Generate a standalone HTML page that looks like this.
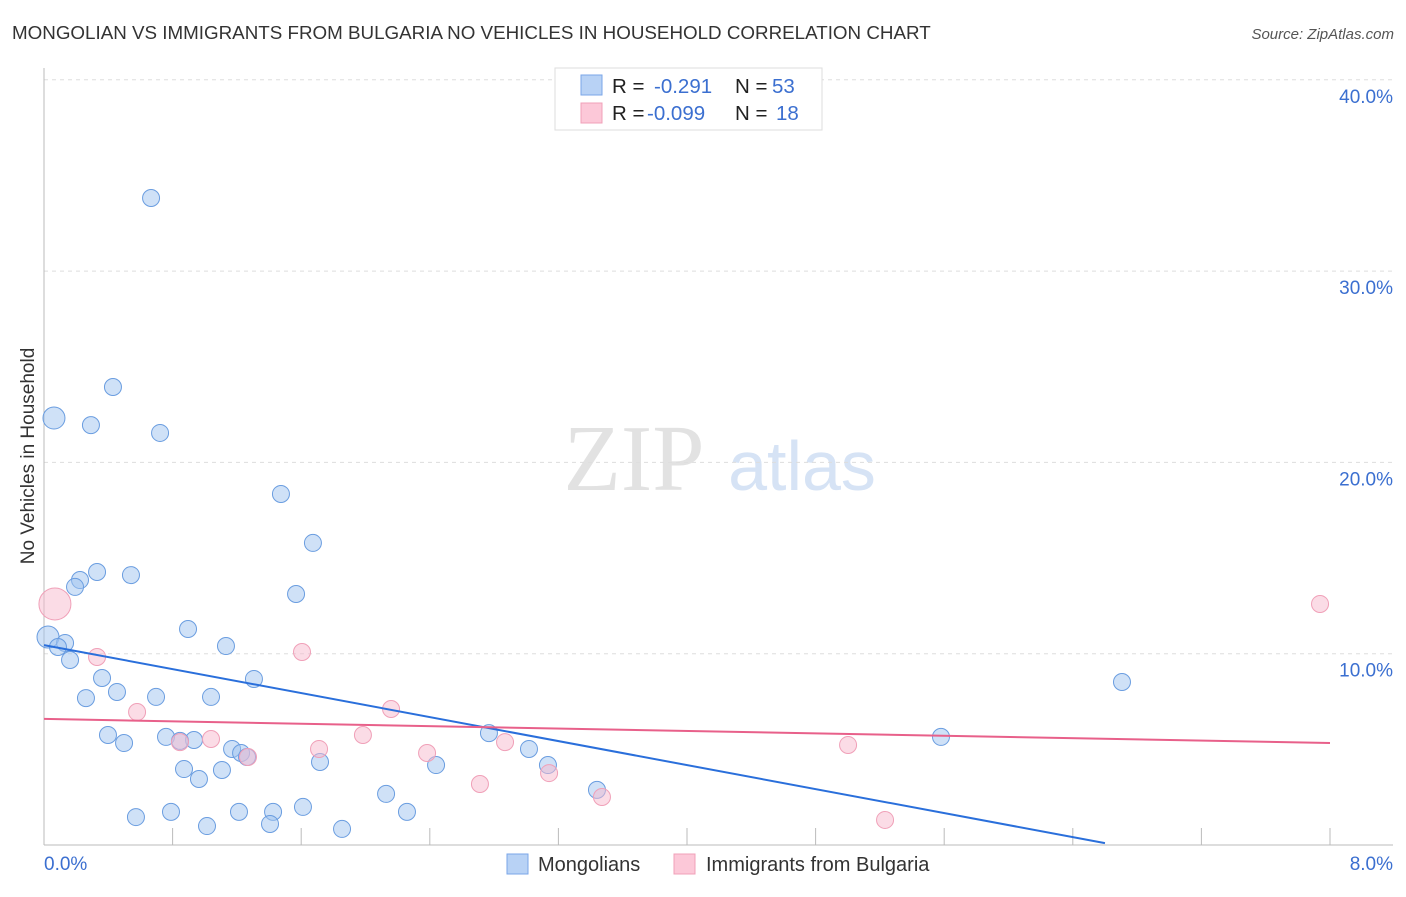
<!DOCTYPE html>
<html><head><meta charset="utf-8"><style>
body{margin:0;background:#fff;font-family:"Liberation Sans",sans-serif;}
</style></head><body>
<svg width="1406" height="892" xmlns="http://www.w3.org/2000/svg">
<text x="12" y="39" font-size="18.8" fill="#333">MONGOLIAN VS IMMIGRANTS FROM BULGARIA NO VEHICLES IN HOUSEHOLD CORRELATION CHART</text>
<text x="1394" y="39" font-size="15" fill="#555" font-style="italic" text-anchor="end">Source: ZipAtlas.com</text>
<g>
<text x="634" y="490" font-size="94" fill="#e2e2e2" font-family="Liberation Serif,serif" text-anchor="middle">ZIP</text>
<text x="802" y="490" font-size="70" fill="#d6e3f5" text-anchor="middle">atlas</text>
</g>
<g id="grid"></g><g id="axes"></g><g id="pts"></g><g id="lines"></g>
<text transform="translate(34,456) rotate(-90)" font-size="19" fill="#333" text-anchor="middle">No Vehicles in Household</text>
<text x="44" y="870" font-size="19" fill="#3b6fd0">0.0%</text>
<text x="1393" y="870" font-size="19" fill="#3b6fd0" text-anchor="end">8.0%</text>
<g>
<rect x="555" y="68" width="267" height="62" fill="#fff" stroke="#ddd"/>
<rect x="581" y="75" width="21" height="20" fill="#b8d2f5" stroke="#7aa6e8"/>
<rect x="581" y="103" width="21" height="20" fill="#fcc8d8" stroke="#f0a0b8"/>
<text x="612" y="93" font-size="20.5" fill="#222">R = </text><text x="654" y="93" font-size="20.5" fill="#3b6fd0">-0.291</text>
<text x="735" y="93" font-size="20.5" fill="#222">N = </text><text x="772" y="93" font-size="20.5" fill="#3b6fd0">53</text>
<text x="612" y="120" font-size="20.5" fill="#222">R = </text><text x="647" y="120" font-size="20.5" fill="#3b6fd0">-0.099</text>
<text x="735" y="120" font-size="20.5" fill="#222">N = </text><text x="776" y="120" font-size="20.5" fill="#3b6fd0">18</text>
</g>
<g>
<rect x="507" y="854" width="21" height="20" fill="#b8d2f5" stroke="#7aa6e8"/>
<text x="538" y="871" font-size="20" fill="#333">Mongolians</text>
<rect x="674" y="854" width="21" height="20" fill="#fcc8d8" stroke="#f0a0b8"/>
<text x="706" y="871" font-size="20" fill="#333">Immigrants from Bulgaria</text>
</g>
</svg>
<script>
const yTicks=[10,20,30,40];
const yTickLabels=["10.0%","20.0%","30.0%","40.0%"];
const blueX=[0.666,0.429,0.062,0.292,0.722,1.474,1.673,0.330,0.541,0.224,0.193,1.568,0.896,0.025,0.131,0.087,1.132,0.162,0.361,1.306,6.706,0.454,0.261,0.697,1.039,0.398,0.498,0.759,0.933,0.846,1.170,1.226,1.263,2.768,3.017,5.580,1.717,0.871,1.107,0.964,2.439,3.135,2.128,3.440,0.572,0.790,1.014,1.213,1.425,1.406,1.611,1.854,2.258];
const blueY=[33.82,23.94,22.32,21.95,21.54,18.35,15.79,14.27,14.11,13.85,13.49,13.12,11.29,10.87,10.56,10.35,10.40,9.67,8.73,8.68,8.52,8.00,7.68,7.74,7.74,5.75,5.33,5.65,5.49,5.44,5.02,4.81,4.60,5.85,5.02,5.65,4.34,3.97,3.92,3.45,4.18,4.18,2.67,2.88,1.46,1.73,0.99,1.73,1.73,1.10,1.99,0.84,1.73];
const blueBig=[2,13];
const pinkX=[0.068,0.330,0.579,0.846,1.039,1.269,1.605,1.711,1.984,2.159,2.383,2.712,2.868,3.142,3.471,5.002,5.232,7.938];
const pinkY=[12.60,9.83,6.95,5.38,5.54,4.60,10.09,5.02,5.75,7.11,4.81,3.19,5.38,3.76,2.51,5.23,1.31,12.60];
const blueTrend=[[0,10.45],[6.60,0.1]];
const pinkTrend=[[0,6.59],[8,5.33]];
const NS="http://www.w3.org/2000/svg";
const X=v=>44+v*160.75, Y=v=>845-v*19.13;
function mk(t,a,p){const e=document.createElementNS(NS,t);for(const k in a)e.setAttribute(k,a[k]);p.appendChild(e);return e;}
const grid=document.getElementById('grid');
yTicks.forEach((t,i)=>{
 const l=mk('line',{x1:44,x2:1393,y1:Y(t),y2:Y(t),stroke:'#ddd','stroke-dasharray':'4,4'},grid);
 
 
 const tx=mk('text',{x:1393,y:Y(t)+23,'font-size':19,fill:'#3b6fd0','text-anchor':'end'},grid);
 tx.textContent=yTickLabels[i];
 
 
});
const ax=document.getElementById('axes');
mk('line',{x1:44,x2:44,y1:68,y2:845,stroke:'#bbb'},ax);
mk('line',{x1:44,x2:1393,y1:845,y2:845,stroke:'#bbb'},ax);
for(let i=1;i<=10;i++){const t=mk('line',{x1:X(i*0.8),x2:X(i*0.8),y1:828,y2:845,stroke:'#bbb'},ax);
 
 }
const pts=document.getElementById('pts');
blueX.forEach((v,i)=>{const c=mk('circle',{cx:X(v),cy:Y(blueY[i]),r:blueBig.includes(i)?11:8.5,fill:'rgba(160,195,240,0.5)',stroke:'#6a9de0','stroke-width':1},pts);
 
 });
pinkX.forEach((v,i)=>{const c=mk('circle',{cx:X(v),cy:Y(pinkY[i]),r:i==0?16:8.5,fill:'rgba(248,185,205,0.5)',stroke:'#f0a0b8','stroke-width':1},pts);
 
 });
const ln=document.getElementById('lines');
const b=mk('line',{x1:X(blueTrend[0][0]),y1:Y(blueTrend[0][1]),x2:X(blueTrend[1][0]),y2:Y(blueTrend[1][1]),stroke:'#2a6fdb','stroke-width':2},ln);


const p=mk('line',{x1:X(pinkTrend[0][0]),y1:Y(pinkTrend[0][1]),x2:X(pinkTrend[1][0]),y2:Y(pinkTrend[1][1]),stroke:'#e8608a','stroke-width':2},ln);


</script>
</body></html>
